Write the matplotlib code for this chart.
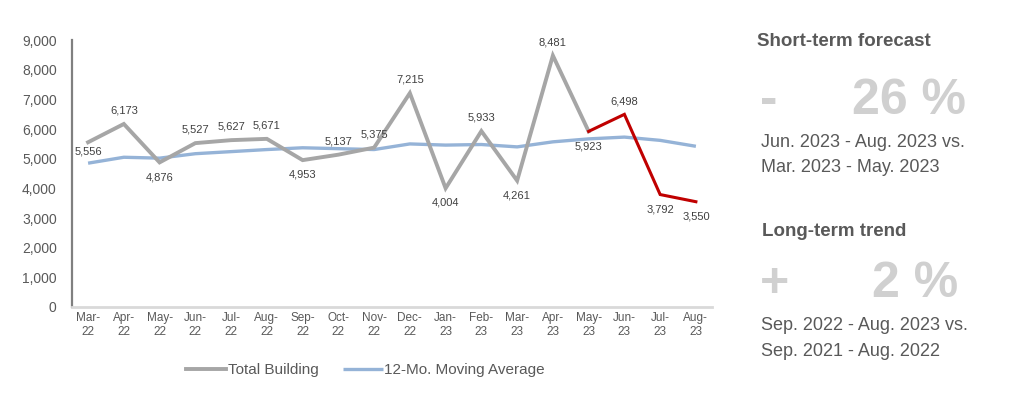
import numpy as np
import matplotlib
matplotlib.use("Agg")
import matplotlib.pyplot as plt

plt.rcParams['font.family'] = ['Liberation Sans', 'DejaVu Sans']

months = ["Mar-\n22", "Apr-\n22", "May-\n22", "Jun-\n22", "Jul-\n22", "Aug-\n22",
          "Sep-\n22", "Oct-\n22", "Nov-\n22", "Dec-\n22", "Jan-\n23", "Feb-\n23",
          "Mar-\n23", "Apr-\n23", "May-\n23", "Jun-\n23", "Jul-\n23", "Aug-\n23"]
total_building = [5556, 6173, 4876, 5527, 5627, 5671, 4953, 5137, 5375, 7215,
                  4004, 5933, 4261, 8481, 5923, 6498, 3792, 3550]
moving_avg = [4850, 5050, 5020, 5170, 5240, 5310, 5370, 5340, 5310, 5500,
              5460, 5480, 5400, 5570, 5670, 5730, 5620, 5420]
# label placement: 'a' above, 'b' below, 'l' left
label_pos = ['l', 'a', 'b', 'a', 'a', 'a', 'b', 'a', 'a', 'a',
             'b', 'a', 'b', 'a', 'b', 'a', 'b', 'b']
forecast_start = 14  # May-23 onwards drawn in red

x = np.arange(len(months))

fig = plt.figure(figsize=(10.24, 3.94), dpi=100)
ax = fig.add_axes([0.0703, 0.221, 0.625, 0.677])

ax.plot(x, moving_avg, color='#95b3d7', lw=2.4, solid_capstyle='butt',
        label='12-Mo. Moving Average', zorder=2)
ax.plot(x[:forecast_start + 1], total_building[:forecast_start + 1], color='#a6a6a6',
        lw=2.8, solid_joinstyle='miter', label='Total Building', zorder=3)
ax.plot(x[forecast_start:], total_building[forecast_start:], color='#c00000',
        lw=2.2, solid_joinstyle='miter', zorder=4)

for xi, v, p in zip(x, total_building, label_pos):
    if p == 'a':
        off, va, ha = (0, 6), 'bottom', 'center'
    elif p == 'b':
        off, va, ha = (0, -7), 'top', 'center'
    else:
        off, va, ha = (0, -7), 'center', 'center'
    ax.annotate(f"{v:,}", (xi, v), xytext=off, textcoords='offset points',
                ha=ha, va=va, fontsize=8, color='#404040')

ax.set_xlim(-0.45, 17.45)
ax.set_ylim(0, 9000)
ax.set_yticks(np.arange(0, 9001, 1000))
ax.set_yticklabels([f"{v:,}" for v in range(0, 9001, 1000)])
ax.set_xticks(x)
ax.set_xticklabels(months, linespacing=1.15)
ax.tick_params(axis='y', length=0, labelsize=10, labelcolor='#595959', pad=11)
ax.tick_params(axis='x', length=0, labelsize=8.5, labelcolor='#595959', pad=4)
for s in ['top', 'right']:
    ax.spines[s].set_visible(False)
ax.spines['left'].set_color('#808080')
ax.spines['left'].set_linewidth(1.6)
ax.spines['bottom'].set_color('#d9d9d9')
ax.spines['bottom'].set_linewidth(2)

handles, labels = ax.get_legend_handles_labels()
fig.legend(handles[::-1], labels[::-1], loc='center', bbox_to_anchor=(0.357, 0.061),
           ncol=2, frameon=False, fontsize=11, labelcolor='#595959',
           handlelength=2.6, handletextpad=0.1, columnspacing=1.6)

txt = '#595959'
big = '#d0d0d0'
fig.text(757 / 1024, 1 - 42 / 394, "Short-term forecast", fontsize=13.5, fontweight='bold',
         color=txt, va='center')
fig.text(760 / 1024, 1 - 101 / 394, "-", fontsize=38, fontweight='bold', color=big, va='center')
fig.text(966 / 1024, 1 - 101 / 394, "26 %", fontsize=36, fontweight='bold', color=big,
         va='center', ha='right')
fig.text(761 / 1024, 1 - 143 / 394, "Jun. 2023 - Aug. 2023 vs.", fontsize=13, color=txt,
         va='center')
fig.text(761 / 1024, 1 - 167 / 394, "Mar. 2023 - May. 2023", fontsize=13, color=txt,
         va='center')
fig.text(762 / 1024, 1 - 231 / 394, "Long-term trend", fontsize=13.5, fontweight='bold',
         color=txt, va='center')
fig.text(760 / 1024, 1 - 284 / 394, "+", fontsize=36, fontweight='bold', color=big, va='center')
fig.text(958 / 1024, 1 - 284 / 394, "2 %", fontsize=36, fontweight='bold', color=big,
         va='center', ha='right')
fig.text(761 / 1024, 1 - 326 / 394, "Sep. 2022 - Aug. 2023 vs.", fontsize=13, color=txt,
         va='center')
fig.text(761 / 1024, 1 - 352 / 394, "Sep. 2021 - Aug. 2022", fontsize=13, color=txt,
         va='center')

fig.savefig("out.png", dpi=100)
